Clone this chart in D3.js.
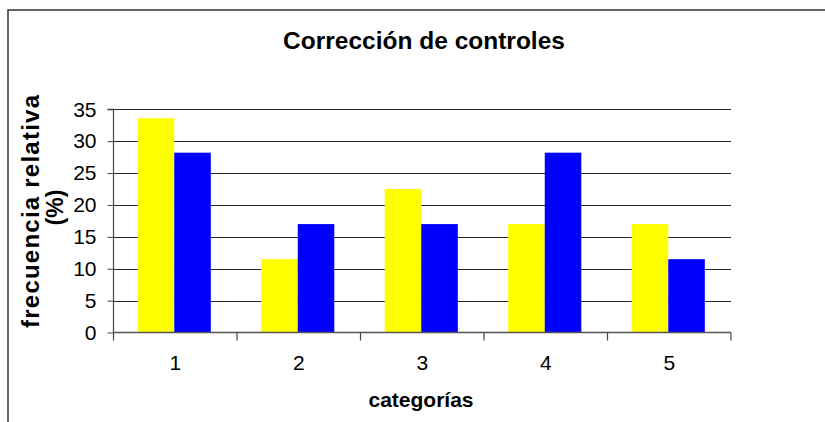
<!DOCTYPE html>
<html>
<head>
<meta charset="utf-8">
<script src="https://cdn.jsdelivr.net/npm/d3@7"></script>
<style>
  html, body { margin: 0; padding: 0; background: #fff; }
  svg { display: block; font-family: "Liberation Sans", Arial, sans-serif; }
</style>
</head>
<body>
<svg id="chart" width="825" height="422"></svg>
<script>
const categories = ["1", "2", "3", "4", "5"];
const seriesNames = ["serie1", "serie2"];
const serie1 = [33.6, 11.5, 22.5, 17.0, 17.0];
const serie2 = [28.2, 17.0, 17.0, 28.2, 11.5];
const yTicks = [0, 5, 10, 15, 20, 25, 30, 35];
const colors = ["#FFFF00", "#0000FF"];
const title = "Corrección de controles";
const xTitle = "categorías";
const yTitle1 = "frecuencia relativa";
const yTitle2 = "(%)";

const svg = d3.select("#chart");

// outer frame
svg.append("rect")
  .attr("x", 8).attr("y", 10)
  .attr("width", 900).attr("height", 500)
  .attr("fill", "#fff")
  .attr("stroke", "#333").attr("stroke-width", 1.5);

const plot = { left: 113.5, right: 731, top: 109.3, bottom: 332.5 };

const x = d3.scaleBand().domain(categories).range([plot.left, plot.right]).padding(0);
const y = d3.scaleLinear().domain([0, 35]).range([plot.bottom, plot.top]);

// gridlines
svg.append("g").selectAll("line").data(yTicks.filter(t => t > 0)).join("line")
  .attr("x1", plot.left).attr("x2", plot.right)
  .attr("y1", d => Math.round(y(d)) + 0.5).attr("y2", d => Math.round(y(d)) + 0.5)
  .attr("stroke", "#262626").attr("stroke-width", 1.2);

// bars
const bw = x.bandwidth() * 0.296;
const off = x.bandwidth() * 0.196;
const data = [];
categories.forEach((c, i) => {
  [serie1, serie2].forEach((s, j) => data.push({ c, j, v: s[i] }));
});
svg.append("g").selectAll("rect").data(data).join("rect")
  .attr("x", d => x(d.c) + off + d.j * bw)
  .attr("y", d => y(d.v))
  .attr("width", bw)
  .attr("height", d => y(0) - y(d.v))
  .attr("fill", d => colors[d.j]);

// y axis
const yAxis = d3.axisLeft(y).tickValues(yTicks).tickSize(6).tickPadding(11).tickFormat(d3.format("d"));
const gy = svg.append("g").attr("transform", `translate(${plot.left},0)`).call(yAxis);
gy.select(".domain").attr("stroke", "#444").attr("stroke-width", 1.2).attr("d", `M-6,${y(35)}H0V${y(0)}`);
gy.selectAll(".tick line").attr("stroke", "#444");
gy.selectAll(".tick text").attr("font-size", 21).attr("fill", "#000")
  .attr("font-family", "'Liberation Sans', Arial, sans-serif");

// x axis
const xAxis = d3.axisBottom(x).tickSize(0).tickPadding(23);
const gx = svg.append("g").attr("transform", `translate(0,${plot.bottom})`).call(xAxis);
gx.select(".domain").attr("stroke", "#555").attr("stroke-width", 1.5).attr("d", `M${plot.left},0H${plot.right}`);
gx.selectAll(".tick text").attr("font-size", 21).attr("fill", "#000")
  .attr("font-family", "'Liberation Sans', Arial, sans-serif");
// category boundary ticks
const bounds = categories.map(c => x(c)).concat([plot.right]);
svg.append("g").selectAll("line").data(bounds).join("line")
  .attr("x1", d => d).attr("x2", d => d)
  .attr("y1", plot.bottom).attr("y2", plot.bottom + 8)
  .attr("stroke", "#444").attr("stroke-width", 1.2);

// title
svg.append("text")
  .attr("x", 424).attr("y", 49)
  .attr("text-anchor", "middle")
  .attr("font-size", 24.5).attr("font-weight", "bold")
  .text(title);

// x title
svg.append("text")
  .attr("x", 421).attr("y", 407)
  .attr("text-anchor", "middle")
  .attr("font-size", 21).attr("font-weight", "bold")
  .text(xTitle);

// y title
const yt = svg.append("g").attr("transform", "translate(39,211.5) rotate(-90)");
yt.append("text")
  .attr("x", 0).attr("y", 0)
  .attr("text-anchor", "middle")
  .attr("font-size", 24).attr("font-weight", "bold")
  .attr("textLength", 233).attr("lengthAdjust", "spacing")
  .text(yTitle1);
yt.append("text")
  .attr("x", 4).attr("y", 24)
  .attr("text-anchor", "middle")
  .attr("font-size", 23).attr("font-weight", "bold")
  .text(yTitle2);
</script>
</body>
</html>
